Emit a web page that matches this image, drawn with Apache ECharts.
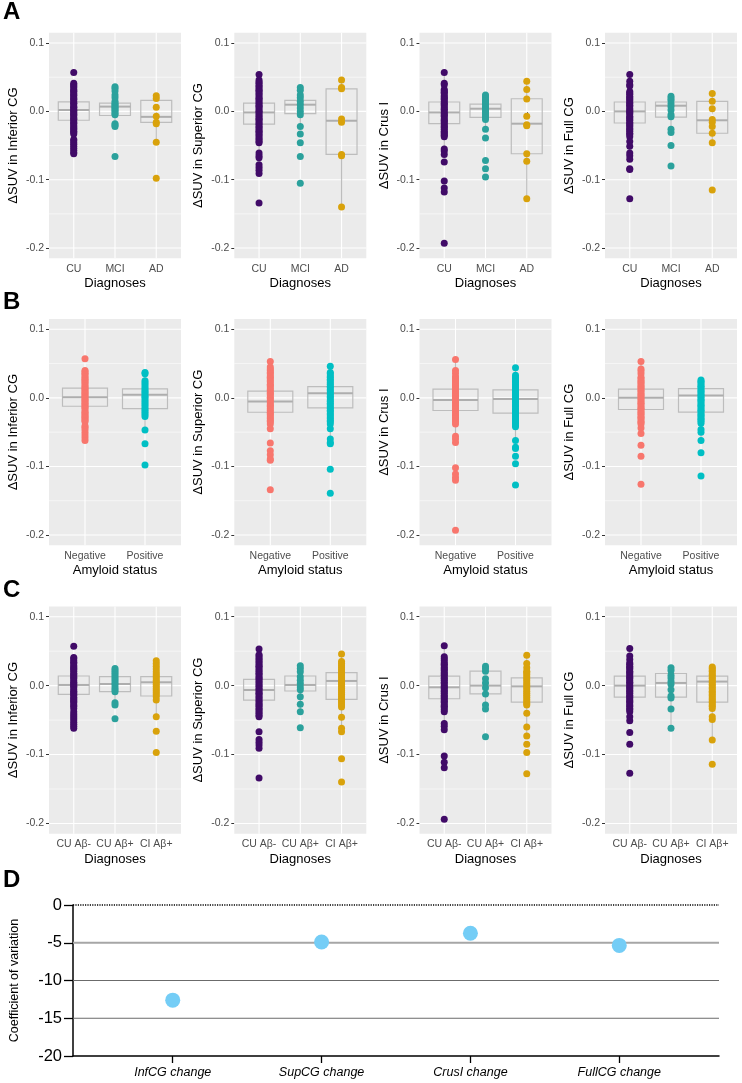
<!DOCTYPE html>
<html>
<head>
<meta charset="utf-8">
<script src="https://cdn.jsdelivr.net/npm/echarts@6/dist/echarts.min.js"></script>
<style>
  html, body { margin: 0; padding: 0; background: #fff; }
  #chart { width: 742px; height: 1083px; }
</style>
</head>
<body>
<div id="chart"></div>
<script>
// categories and axis breaks
const dxCats = ['CU', 'MCI', 'AD'];
const amyCats = ['Negative', 'Positive'];
const grpCats = ['CU Aβ-', 'CU Aβ+', 'CI Aβ+'];
const regionNames = ['ΔSUV in Inferior CG', 'ΔSUV in Superior CG', 'ΔSUV in Crus I', 'ΔSUV in Full CG'];
const majorBreaks = [-0.2, -0.1, 0, 0.1];
const minorBreaks = [-0.15, -0.05, 0.05];

// row A: diagnoses (points per group, boxes as [lo, q1, median, q3, hi])
const aInfPts = [
  [0.057, 0.041, 0.039, 0.037, 0.035, 0.032, 0.030, 0.029, 0.026, 0.024, 0.023, 0.020, 0.018, 0.017, 0.014, 0.012, 0.011, 0.008, 0.006, 0.005, 0.002, 0.001, -0.001, -0.003, -0.005, -0.006, -0.009, -0.011, -0.012, -0.015, -0.017, -0.018, -0.021, -0.023, -0.025, -0.027, -0.029, -0.031, -0.033, -0.041, -0.043, -0.046, -0.048, -0.051, -0.054, -0.057, -0.060, -0.062],
  [0.036, 0.034, 0.030, 0.024, 0.020, 0.015, 0.012, 0.010, 0.008, 0.006, 0.004, 0.002, 0.000, -0.003, -0.005, -0.018, -0.020, -0.022, -0.066],
  [0.023, 0.019, 0.006, -0.007, -0.016, -0.018, -0.045, -0.098]
];
const aInfBox = [[-0.05, -0.013, 0.002, 0.014, 0.04], [-0.022, -0.006, 0.007, 0.012, 0.036], [-0.045, -0.016, -0.008, 0.016, 0.023]];

const aSupPts = [
  [0.054, 0.046, 0.043, 0.041, 0.038, 0.036, 0.033, 0.031, 0.029, 0.026, 0.024, 0.021, 0.019, 0.017, 0.014, 0.012, 0.009, 0.007, 0.005, 0.002, 0.000, -0.002, -0.005, -0.007, -0.010, -0.012, -0.014, -0.017, -0.019, -0.022, -0.024, -0.027, -0.029, -0.031, -0.034, -0.036, -0.039, -0.041, -0.044, -0.046, -0.061, -0.065, -0.068, -0.078, -0.082, -0.086, -0.091, -0.134],
  [0.035, 0.031, 0.024, 0.020, 0.015, 0.010, 0.005, 0.000, -0.005, -0.022, -0.033, -0.046, -0.066, -0.105],
  [0.046, 0.035, 0.033, -0.011, -0.016, -0.063, -0.065, -0.140]
];
const aSupBox = [[-0.061, -0.0185, -0.0015, 0.012, 0.054], [-0.022, -0.0034, 0.0098, 0.016, 0.035], [-0.140, -0.063, -0.0137, 0.033, 0.046]];

const aCrusPts = [
  [0.057, 0.041, 0.039, 0.032, 0.030, 0.028, 0.026, 0.023, 0.021, 0.019, 0.017, 0.014, 0.012, 0.010, 0.008, 0.005, 0.003, 0.001, -0.002, -0.004, -0.006, -0.008, -0.011, -0.013, -0.015, -0.017, -0.020, -0.022, -0.024, -0.026, -0.029, -0.031, -0.033, -0.035, -0.037, -0.055, -0.058, -0.063, -0.074, -0.102, -0.112, -0.118, -0.193],
  [0.024, 0.021, 0.018, 0.016, 0.013, 0.010, 0.007, 0.005, 0.002, 0.000, -0.003, -0.006, -0.009, -0.012, -0.026, -0.039, -0.072, -0.084, -0.096],
  [0.044, 0.032, 0.018, -0.007, -0.0195, -0.021, -0.062, -0.073, -0.128]
];
const aCrusBox = [[-0.063, -0.018, -0.0015, 0.0137, 0.057], [-0.026, -0.0088, 0.0039, 0.0107, 0.024], [-0.128, -0.062, -0.018, 0.0185, 0.044]];

const aFullPts = [
  [0.054, 0.044, 0.039, 0.037, 0.029, 0.027, 0.025, 0.022, 0.020, 0.018, 0.016, 0.013, 0.011, 0.009, 0.007, 0.004, 0.002, 0.000, -0.002, -0.004, -0.007, -0.009, -0.011, -0.013, -0.016, -0.018, -0.020, -0.022, -0.025, -0.027, -0.029, -0.032, -0.034, -0.037, -0.044, -0.051, -0.061, -0.065, -0.070, -0.084, -0.085, -0.128],
  [0.022, 0.019, 0.016, 0.011, 0.007, 0.002, -0.005, -0.008, -0.026, -0.031, -0.050, -0.080],
  [0.026, 0.015, 0.004, -0.012, -0.016, -0.022, -0.032, -0.046, -0.115]
];
const aFullBox = [[-0.061, -0.017, 0.0, 0.0137, 0.054], [-0.031, -0.0083, 0.0083, 0.0137, 0.022], [-0.046, -0.032, -0.013, 0.0146, 0.026]];

// row B: amyloid status
const bInfPts = [
  [0.057, 0.040, 0.038, 0.036, 0.034, 0.031, 0.029, 0.027, 0.025, 0.023, 0.021, 0.018, 0.016, 0.014, 0.012, 0.010, 0.008, 0.006, 0.004, 0.002, 0.000, -0.002, -0.004, -0.006, -0.008, -0.010, -0.012, -0.014, -0.016, -0.019, -0.021, -0.023, -0.025, -0.027, -0.029, -0.031, -0.033, -0.035, -0.041, -0.043, -0.046, -0.050, -0.054, -0.058, -0.062],
  [0.037, 0.035, 0.025, 0.022, 0.019, 0.016, 0.013, 0.010, 0.008, 0.005, 0.002, 0.000, -0.003, -0.006, -0.009, -0.012, -0.015, -0.018, -0.021, -0.024, -0.027, -0.047, -0.067, -0.098]
];
const bInfBox = [[-0.05, -0.0122, 0.001, 0.0141, 0.04], [-0.047, -0.0156, 0.0044, 0.013, 0.037]];

const bSupPts = [
  [0.053, 0.045, 0.042, 0.040, 0.037, 0.035, 0.032, 0.030, 0.028, 0.025, 0.023, 0.020, 0.018, 0.016, 0.013, 0.011, 0.008, 0.006, 0.004, 0.001, -0.001, -0.004, -0.006, -0.009, -0.011, -0.013, -0.016, -0.018, -0.021, -0.023, -0.025, -0.028, -0.030, -0.033, -0.035, -0.038, -0.045, -0.066, -0.077, -0.083, -0.089, -0.091, -0.134],
  [0.046, 0.037, 0.035, 0.032, 0.030, 0.027, 0.025, 0.022, 0.020, 0.017, 0.015, 0.012, 0.010, 0.007, 0.005, 0.002, 0.000, -0.003, -0.005, -0.008, -0.010, -0.013, -0.015, -0.018, -0.020, -0.023, -0.025, -0.028, -0.030, -0.033, -0.035, -0.038, -0.045, -0.060, -0.065, -0.067, -0.104, -0.139]
];
const bSupBox = [[-0.045, -0.021, -0.0053, 0.0097, 0.053], [-0.060, -0.0146, 0.0068, 0.0165, 0.046]];

const bCrusPts = [
  [0.056, 0.040, 0.036, 0.031, 0.029, 0.026, 0.024, 0.021, 0.019, 0.017, 0.014, 0.012, 0.009, 0.007, 0.004, 0.002, -0.001, -0.003, -0.006, -0.008, -0.011, -0.013, -0.016, -0.018, -0.020, -0.023, -0.025, -0.028, -0.030, -0.033, -0.035, -0.038, -0.056, -0.060, -0.065, -0.102, -0.111, -0.116, -0.120, -0.193],
  [0.044, 0.033, 0.030, 0.028, 0.025, 0.023, 0.020, 0.018, 0.015, 0.013, 0.010, 0.008, 0.005, 0.003, 0.000, -0.002, -0.005, -0.007, -0.010, -0.012, -0.015, -0.017, -0.020, -0.022, -0.025, -0.027, -0.030, -0.032, -0.035, -0.037, -0.040, -0.042, -0.062, -0.072, -0.074, -0.085, -0.096, -0.127]
];
const bCrusBox = [[-0.065, -0.0184, -0.003, 0.0126, 0.056], [-0.062, -0.0223, -0.0015, 0.0117, 0.044]];

const bFullPts = [
  [0.053, 0.042, 0.039, 0.035, 0.030, 0.028, 0.025, 0.023, 0.021, 0.018, 0.016, 0.014, 0.011, 0.009, 0.006, 0.004, 0.002, -0.001, -0.003, -0.006, -0.008, -0.010, -0.013, -0.015, -0.017, -0.020, -0.022, -0.024, -0.027, -0.029, -0.031, -0.034, -0.036, -0.038, -0.044, -0.052, -0.069, -0.085, -0.126],
  [0.026, 0.024, 0.022, 0.019, 0.017, 0.015, 0.012, 0.010, 0.008, 0.005, 0.003, 0.001, -0.002, -0.004, -0.006, -0.009, -0.011, -0.013, -0.016, -0.018, -0.020, -0.023, -0.025, -0.027, -0.030, -0.032, -0.034, -0.037, -0.046, -0.050, -0.062, -0.080, -0.114]
];
const bFullBox = [[-0.052, -0.017, 0.0, 0.0126, 0.053], [-0.062, -0.0209, 0.0034, 0.0136, 0.026]];

// row C: diagnosis x amyloid group
const cInfPts = [
  [0.057, 0.041, 0.039, 0.036, 0.034, 0.032, 0.029, 0.027, 0.025, 0.023, 0.021, 0.018, 0.016, 0.014, 0.012, 0.010, 0.007, 0.005, 0.003, 0.001, -0.001, -0.003, -0.006, -0.008, -0.010, -0.012, -0.014, -0.017, -0.019, -0.021, -0.023, -0.025, -0.028, -0.030, -0.033, -0.038, -0.041, -0.044, -0.047, -0.050, -0.053, -0.056, -0.059, -0.062],
  [0.025, 0.022, 0.019, 0.016, 0.013, 0.010, 0.007, 0.004, 0.001, -0.003, -0.006, -0.009, -0.025, -0.028, -0.048],
  [0.036, 0.032, 0.028, 0.024, 0.020, 0.017, 0.014, 0.011, 0.008, 0.005, 0.002, -0.001, -0.004, -0.007, -0.010, -0.013, -0.016, -0.021, -0.045, -0.066, -0.097]
];
const cInfBox = [[-0.05, -0.0126, 0.001, 0.014, 0.041], [-0.028, -0.0087, 0.0024, 0.013, 0.025], [-0.045, -0.015, 0.0049, 0.013, 0.036]];

const cSupPts = [
  [0.053, 0.045, 0.043, 0.040, 0.038, 0.035, 0.033, 0.030, 0.028, 0.026, 0.023, 0.021, 0.018, 0.016, 0.013, 0.011, 0.009, 0.006, 0.004, 0.001, -0.001, -0.004, -0.006, -0.009, -0.011, -0.013, -0.016, -0.018, -0.021, -0.023, -0.026, -0.028, -0.030, -0.033, -0.035, -0.038, -0.040, -0.043, -0.045, -0.067, -0.078, -0.082, -0.086, -0.091, -0.134],
  [0.029, 0.025, 0.020, 0.013, 0.008, 0.003, -0.002, -0.006, -0.016, -0.027, -0.038, -0.061],
  [0.046, 0.035, 0.032, 0.029, 0.026, 0.023, 0.020, 0.017, 0.014, 0.011, 0.008, 0.005, 0.002, -0.001, -0.004, -0.007, -0.010, -0.013, -0.016, -0.019, -0.022, -0.025, -0.028, -0.031, -0.046, -0.062, -0.067, -0.106, -0.140]
];
const cSupBox = [[-0.045, -0.0209, -0.0063, 0.0092, 0.053], [-0.038, -0.0078, 0.001, 0.014, 0.029], [-0.067, -0.020, 0.0068, 0.019, 0.046]];

const cCrusPts = [
  [0.058, 0.042, 0.039, 0.036, 0.033, 0.031, 0.029, 0.026, 0.024, 0.022, 0.019, 0.017, 0.015, 0.012, 0.010, 0.008, 0.005, 0.003, 0.000, -0.002, -0.004, -0.007, -0.009, -0.011, -0.014, -0.016, -0.018, -0.021, -0.023, -0.025, -0.028, -0.030, -0.032, -0.035, -0.038, -0.055, -0.059, -0.064, -0.102, -0.111, -0.119, -0.194],
  [0.028, 0.025, 0.021, 0.010, 0.004, -0.003, -0.012, -0.028, -0.034, -0.074],
  [0.044, 0.032, 0.026, 0.021, 0.019, 0.016, 0.013, 0.010, 0.007, 0.004, 0.001, -0.002, -0.005, -0.008, -0.011, -0.014, -0.017, -0.020, -0.023, -0.026, -0.028, -0.040, -0.060, -0.073, -0.085, -0.097, -0.128]
];
const cCrusBox = [[-0.064, -0.019, -0.0024, 0.0137, 0.058], [-0.034, -0.012, 0.0, 0.021, 0.028], [-0.073, -0.024, -0.001, 0.0112, 0.044]];

const cFullPts = [
  [0.054, 0.043, 0.038, 0.033, 0.031, 0.028, 0.026, 0.024, 0.021, 0.019, 0.017, 0.014, 0.012, 0.010, 0.007, 0.005, 0.003, 0.000, -0.002, -0.004, -0.007, -0.009, -0.011, -0.014, -0.016, -0.018, -0.021, -0.023, -0.025, -0.028, -0.030, -0.033, -0.035, -0.038, -0.045, -0.051, -0.068, -0.085, -0.127],
  [0.026, 0.022, 0.015, 0.011, 0.006, 0.002, -0.006, -0.015, -0.018, -0.034, -0.062],
  [0.027, 0.025, 0.022, 0.020, 0.017, 0.015, 0.012, 0.010, 0.007, 0.005, 0.002, 0.000, -0.003, -0.005, -0.008, -0.010, -0.013, -0.015, -0.018, -0.020, -0.023, -0.025, -0.028, -0.030, -0.033, -0.045, -0.049, -0.079, -0.114]
];
const cFullBox = [[-0.051, -0.0166, 0.0, 0.0137, 0.054], [-0.062, -0.0166, 0.0039, 0.0176, 0.026], [-0.079, -0.024, 0.0059, 0.0137, 0.027]];

// panel D: coefficient of variation
const cvCats = ['InfCG change', 'SupCG change', 'CrusI change', 'FullCG change'];
const cvValues = [-12.6, -4.9, -3.75, -5.35];
const cvBreaks = [-15, -10, -5];

const FONT = 'Liberation Sans, Arial, Helvetica, sans-serif';
const dxColors = ['#410B68', '#2BA19C', '#D9A20B'];
const amyColors = ['#F8766D', '#00BFC4'];
const boxColor = '#BDBDBD';
const medianColor = '#AEAEAE';

const rows = [
  { cats: dxCats, title: 'Diagnoses', colors: dxColors,
    panels: [[aInfPts, aInfBox], [aSupPts, aSupBox], [aCrusPts, aCrusBox], [aFullPts, aFullBox]] },
  { cats: amyCats, title: 'Amyloid status', colors: amyColors,
    panels: [[bInfPts, bInfBox], [bSupPts, bSupBox], [bCrusPts, bCrusBox], [bFullPts, bFullBox]] },
  { cats: grpCats, title: 'Diagnoses', colors: dxColors,
    panels: [[cInfPts, cInfBox], [cSupPts, cSupBox], [cCrusPts, cCrusBox], [cFullPts, cFullBox]] }
];

const colLeft = [49, 234.3, 419.5, 605];
const rowTop = [32.8, 319, 606.4];
const rowHeight = [225.5, 226.3, 227.4];

function renderPanelGrid(params, api) {
  const kind = api.value(0);
  const v = api.value(1);
  const cs = params.coordSys;
  if (kind === 2) {
    const x = api.coord([v, 0])[0];
    return { type: 'line', shape: { x1: x, y1: cs.y, x2: x, y2: cs.y + cs.height },
      style: { stroke: '#fff', lineWidth: 1.1 } };
  }
  const y = api.coord([1, v])[1];
  return { type: 'line', shape: { x1: cs.x, y1: y, x2: cs.x + cs.width, y2: y },
    style: { stroke: '#fff', lineWidth: kind === 1 ? 1.1 : 0.55 } };
}

function renderBox(params, api) {
  const x = api.value(0);
  const half = api.size([0.75, 0])[0] / 2;
  const lo = api.coord([x, api.value(1)]);
  const q1 = api.coord([x, api.value(2)]);
  const md = api.coord([x, api.value(3)]);
  const q3 = api.coord([x, api.value(4)]);
  const hi = api.coord([x, api.value(5)]);
  const line = { stroke: boxColor, lineWidth: 1.2 };
  return {
    type: 'group',
    children: [
      { type: 'line', shape: { x1: lo[0], y1: lo[1], x2: q1[0], y2: q1[1] }, style: line },
      { type: 'line', shape: { x1: q3[0], y1: q3[1], x2: hi[0], y2: hi[1] }, style: line },
      { type: 'rect', shape: { x: q3[0] - half, y: q3[1], width: half * 2, height: q1[1] - q3[1] },
        style: { fill: 'none', stroke: boxColor, lineWidth: 1.2 } },
      { type: 'line', shape: { x1: md[0] - half, y1: md[1], x2: md[0] + half, y2: md[1] },
        style: { stroke: medianColor, lineWidth: 2 } }
    ]
  };
}

const grid = [];
const xAxis = [];
const yAxis = [];
const series = [];

rows.forEach((row, r) => {
  row.panels.forEach((panel, c) => {
    const idx = grid.length;
    const n = row.cats.length;
    const catPos = row.cats.map((_, i) => i + 1);
    grid.push({
      left: colLeft[c], top: rowTop[r], width: 132, height: rowHeight[r],
      show: true, backgroundColor: '#EBEBEB', borderWidth: 0
    });
    xAxis.push({
      gridIndex: idx, type: 'value', min: 0.4, max: n + 0.6,
      axisLine: { show: false }, splitLine: { show: false },
      axisTick: { show: true, customValues: catPos, length: 3, lineStyle: { color: '#333', width: 1 } },
      axisLabel: { customValues: catPos, formatter: (v) => row.cats[Math.round(v) - 1],
        fontSize: 10.5, color: '#4D4D4D', margin: 5, fontFamily: FONT },
      name: row.title, nameLocation: 'middle', nameGap: 19,
      nameTextStyle: { fontSize: 13, color: '#000', fontFamily: FONT }
    });
    yAxis.push({
      gridIndex: idx, type: 'value', min: -0.215, max: 0.115,
      axisLine: { show: false }, splitLine: { show: false },
      axisTick: { show: true, customValues: majorBreaks, length: 3, lineStyle: { color: '#333', width: 1 } },
      axisLabel: { customValues: majorBreaks, formatter: (v) => v.toFixed(1),
        fontSize: 10.5, color: '#4D4D4D', margin: 5, fontFamily: FONT },
      name: regionNames[c], nameLocation: 'middle', nameGap: 29, nameRotate: 90,
      nameTextStyle: { fontSize: 13, color: '#000', fontFamily: FONT }
    });
    series.push({
      type: 'custom', xAxisIndex: idx, yAxisIndex: idx, z: 1, silent: true,
      data: [
        ...minorBreaks.map((v) => [0, v]),
        ...majorBreaks.map((v) => [1, v]),
        ...catPos.map((v) => [2, v])
      ],
      renderItem: renderPanelGrid
    });
    series.push({
      type: 'custom', xAxisIndex: idx, yAxisIndex: idx, z: 2, silent: true,
      data: panel[1].map((b, i) => [i + 1, ...b]),
      encode: { x: 0, y: [1, 2, 3, 4, 5] },
      renderItem: renderBox
    });
    panel[0].forEach((vals, g) => {
      series.push({
        type: 'scatter', xAxisIndex: idx, yAxisIndex: idx, z: 3, silent: true,
        symbolSize: 7, itemStyle: { color: row.colors[g], opacity: 1 },
        data: vals.map((v) => [g + 1, v])
      });
    });
  });
});

// panel D
const dIdx = grid.length;
const cvPos = cvCats.map((_, i) => i + 1);
grid.push({ left: 71, top: 905, width: 648, height: 151 });
xAxis.push({
  gridIndex: dIdx, type: 'value', min: 0.33, max: 4.67,
  splitLine: { show: false },
  axisLine: { show: true, onZero: false, lineStyle: { color: '#000', width: 1.5 } },
  axisTick: { show: true, customValues: cvPos, length: 7, lineStyle: { color: '#000', width: 1.3 } },
  axisLabel: { customValues: cvPos, formatter: (v) => cvCats[Math.round(v) - 1],
    fontStyle: 'italic', fontSize: 12.5, color: '#000', margin: 10, fontFamily: FONT }
});
yAxis.push({
  gridIndex: dIdx, type: 'value', min: -20, max: 0, interval: 5,
  splitLine: { show: false },
  axisLine: { show: true, lineStyle: { color: '#000', width: 1.5 } },
  axisTick: { show: true, length: 9, lineStyle: { color: '#000', width: 1.3 } },
  axisLabel: { fontSize: 16.5, color: '#000', margin: 11, fontFamily: FONT },
  name: 'Coefficient of variation', nameLocation: 'middle', nameGap: 52, nameRotate: 90,
  nameTextStyle: { fontSize: 12.5, color: '#000', fontFamily: FONT }
});
series.push({
  type: 'custom', xAxisIndex: dIdx, yAxisIndex: dIdx, z: 1, silent: true,
  data: [...cvBreaks.map((v) => [v, 0]), [0, 1]],
  renderItem: (params, api) => {
    const v = api.value(0);
    const cs = params.coordSys;
    const y = api.coord([1, v])[1];
    const dotted = api.value(1) === 1;
    const light = v === -5;
    return {
      type: 'line', shape: { x1: cs.x, y1: y, x2: cs.x + cs.width, y2: y },
      style: dotted
        ? { stroke: '#000', lineWidth: 1.6, lineDash: [1.2, 1.2] }
        : { stroke: light ? '#A6A6A6' : '#6B6B6B', lineWidth: light ? 1.8 : 1 }
    };
  }
});
series.push({
  type: 'scatter', xAxisIndex: dIdx, yAxisIndex: dIdx, z: 3, silent: true,
  symbolSize: 15, itemStyle: { color: '#74CDF6', opacity: 1 },
  data: cvValues.map((v, i) => [i + 1, v])
});

const labelFont = 'bold 24px ' + FONT;
const option = {
  animation: false,
  textStyle: { fontFamily: FONT },
  grid,
  xAxis,
  yAxis,
  series,
  graphic: [
    { type: 'text', left: 3, top: 0, style: { text: 'A', font: labelFont, fill: '#000' } },
    { type: 'text', left: 3, top: 290, style: { text: 'B', font: labelFont, fill: '#000' } },
    { type: 'text', left: 3, top: 578, style: { text: 'C', font: labelFont, fill: '#000' } },
    { type: 'text', left: 3, top: 868, style: { text: 'D', font: labelFont, fill: '#000' } }
  ]
};

const chart = echarts.init(document.getElementById('chart'), null, { renderer: 'canvas' });
chart.setOption(option);
</script>
</body>
</html>
